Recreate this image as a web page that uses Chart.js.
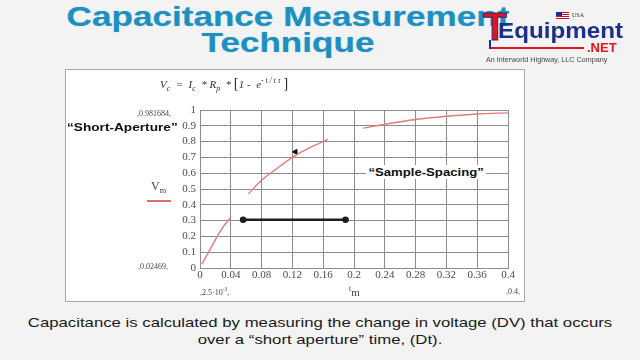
<!DOCTYPE html>
<html>
<head>
<meta charset="utf-8">
<script src="https://cdn.jsdelivr.net/npm/chart.js@4"></script>
<style>
  body { margin: 0; background: #f3f3f3; width: 640px; height: 360px; overflow: hidden; position: relative; font-family: "Liberation Sans", Arial, sans-serif; }
  .abs { position: absolute; white-space: nowrap; }
  #title { left: 288px; top: 4px; transform: translateX(-50%) scaleX(1.3); text-align: center; color: #1f8fbf; font-weight: bold; font-size: 27px; line-height: 26px; text-shadow: 0 0 1px #7cc4df; }
  #frame { left: 65px; top: 69px; width: 458px; height: 231px; background: #fff; border: 1.5px solid #a8a8a8; }
  .serif { font-family: "Liberation Serif", "Times New Roman", serif; color: #444; }
  .small { font-size: 8px; }
  .note { font-weight: bold; font-size: 10.5px; color: #111; transform-origin: left center; transform: scaleX(1.3); z-index: 3; }
  #caption { left: 320px; top: 314px; transform: translateX(-50%) scaleX(1.24); text-align: center; font-size: 13.5px; line-height: 17px; color: #1a1a1a; }
  sub, sup { font-size: 70%; }
</style>
</head>
<body>
<div class="abs" id="title">Capacitance Measurement<br>Technique</div>

<!-- logo -->
<div class="abs" style="left:483px;top:5px;font-weight:bold;font-size:39px;color:#e3141b;-webkit-text-stroke:1px #1c2f8a;z-index:4;">T</div>
<div class="abs" style="left:498px;top:18px;font-weight:bold;font-size:22px;color:#1c2f8a;transform-origin:left center;transform:scaleX(1.1);z-index:4;">Equipment</div>
<div class="abs" style="left:556px;top:12px;width:13px;height:8px;background:repeating-linear-gradient(#c8102e 0 1px,#fff 1px 2px);z-index:4;"><div style="width:6px;height:4px;background:#1c2f8a;"></div></div>
<div class="abs serif" style="left:572px;top:12px;font-size:6px;color:#333;z-index:4;">USA</div>
<div class="abs" style="left:490px;top:47px;width:94px;height:2px;background:#e3141b;z-index:4;"></div>
<div class="abs" style="left:489px;top:40px;width:2px;height:9px;background:#1c2f8a;z-index:4;"></div>
<div class="abs" style="left:587px;top:40px;font-weight:bold;font-size:13px;color:#e3141b;z-index:4;">.NET</div>
<div class="abs" style="left:486px;top:55px;font-size:7.2px;color:#444;z-index:4;">An Interworld Highway, LLC Company</div>

<div class="abs" id="frame"></div>

<div class="abs serif" style="left:160px;top:75px;font-size:11px;font-style:italic;color:#333;z-index:3;">
  V<sub>c</sub> &nbsp;= &nbsp;I<sub>c</sub> &nbsp;* R<sub>p</sub> &nbsp;* <span style="font-size:15px;font-style:normal;">[</span>1 - &nbsp;e<sup>- t / t &tau;</sup> <span style="font-size:15px;font-style:normal;">]</span>
</div>

<div class="abs serif small" style="left:137px;top:109px;z-index:3;">,0.981684,</div>
<div class="abs note" style="left:67px;top:121px;">“Short-Aperture”</div>
<div class="abs serif" style="left:151px;top:179px;font-size:12px;z-index:3;">V<sub>m</sub></div>
<div class="abs" style="left:147px;top:200px;width:24px;height:1.5px;background:#e07070;z-index:3;"></div>
<div class="abs serif small" style="left:138px;top:262px;z-index:3;">,0.02469,</div>
<div class="abs serif small" style="left:200px;top:286px;z-index:3;">,2.5·10<sup>-3</sup>,</div>
<div class="abs serif" style="left:349px;top:284px;font-size:11px;z-index:3;"><sup>t</sup>m</div>
<div class="abs serif small" style="left:506px;top:287px;z-index:3;">,0.4,</div>
<div class="abs note" style="left:366px;top:165px;background:#fff;padding:1px 2px;transform:scaleX(1.25);">“Sample-Spacing”</div>

<canvas id="myChart" class="abs" width="640" height="360" style="left:0;top:0;z-index:2;"></canvas>

<div class="abs" id="caption">Capacitance is calculated by measuring the change in voltage (DV) that occurs<br>over a “short aperture” time, (Dt).</div>

<script>
// sampled voltage curve V_m against t_m (gaps where the picture is washed out)
const timeValues = [0.0025, 0.01, 0.02, 0.03, 0.04, 0.05, 0.063, 0.08, 0.1, 0.12, 0.14, 0.16, 0.166, 0.19, 0.212, 0.24, 0.28, 0.32, 0.36, 0.4];
const voltageValues = [0.0247, 0.09, 0.18, 0.26, 0.32, null, 0.47, 0.555, 0.63, 0.70, 0.755, 0.80, 0.815, null, 0.885, 0.91, 0.94, 0.96, 0.975, 0.982];

// "sample spacing" double arrow
const arrowX = [0.056, 0.189];
const arrowY = [0.305, 0.305];

// little arrowhead on the curve
const markX = [0.124];
const markY = [0.735];

const xTickValues = [0, 0.04, 0.08, 0.12, 0.16, 0.2, 0.24, 0.28, 0.32, 0.36, 0.4];
const xTickLabels = ["0", "0.04", "0.08", "0.12", "0.16", "0.2", "0.24", "0.28", "0.32", "0.36", "0.4"];
const yTickValues = [0, 0.1, 0.2, 0.3, 0.4, 0.5, 0.6, 0.7, 0.8, 0.9, 1];
const yTickLabels = ["0", "0.1", "0.2", "0.3", "0.4", "0.5", "0.6", "0.7", "0.8", "0.9", "1"];

const toPoints = (xs, ys) => xs.map((x, i) => ({ x: x, y: ys[i] }));

const tickFont = { family: "'Liberation Serif', 'Times New Roman', serif", size: 11 };
const gridColor = "#8c8c8c";

new Chart(document.getElementById("myChart").getContext("2d"), {
  type: "line",
  data: {
    datasets: [
      {
        label: "V_m",
        data: toPoints(timeValues, voltageValues),
        borderColor: "#e47a7a",
        borderWidth: 1.4,
        pointRadius: 0,
        cubicInterpolationMode: "monotone",
        spanGaps: false,
        fill: false
      },
      {
        label: "Sample-Spacing",
        data: toPoints(arrowX, arrowY),
        borderColor: "#1e1e1e",
        backgroundColor: "#1e1e1e",
        borderWidth: 2.6,
        pointRadius: 2,
        fill: false
      },
      {
        label: "arrowhead",
        data: toPoints(markX, markY),
        showLine: false,
        pointStyle: "triangle",
        rotation: -90,
        pointRadius: 3,
        borderColor: "#111",
        backgroundColor: "#111"
      }
    ]
  },
  options: {
    responsive: false,
    animation: false,
    layout: { padding: { left: 0, right: 132, top: 110, bottom: 0 } },
    plugins: {
      legend: { display: false },
      tooltip: { enabled: false }
    },
    scales: {
      x: {
        type: "linear",
        min: 0,
        max: 0.4,
        afterBuildTicks: axis => { axis.ticks = xTickValues.map(v => ({ value: v })); },
        afterFit: axis => { axis.height = 92; },
        ticks: {
          font: tickFont,
          color: "#4a4a4a",
          padding: 1,
          maxRotation: 0,
          autoSkip: false,
          callback: (value, index) => xTickLabels[index]
        },
        grid: { color: gridColor, lineWidth: 1, drawTicks: false },
        border: { color: gridColor }
      },
      y: {
        min: 0,
        max: 1,
        afterBuildTicks: axis => { axis.ticks = yTickValues.map(v => ({ value: v })); },
        afterFit: axis => { axis.width = 200; },
        ticks: {
          font: tickFont,
          color: "#4a4a4a",
          padding: 4,
          autoSkip: false,
          callback: (value, index) => yTickLabels[index]
        },
        grid: { color: gridColor, lineWidth: 1, drawTicks: false },
        border: { color: gridColor }
      }
    }
  }
});
</script>
</body>
</html>
